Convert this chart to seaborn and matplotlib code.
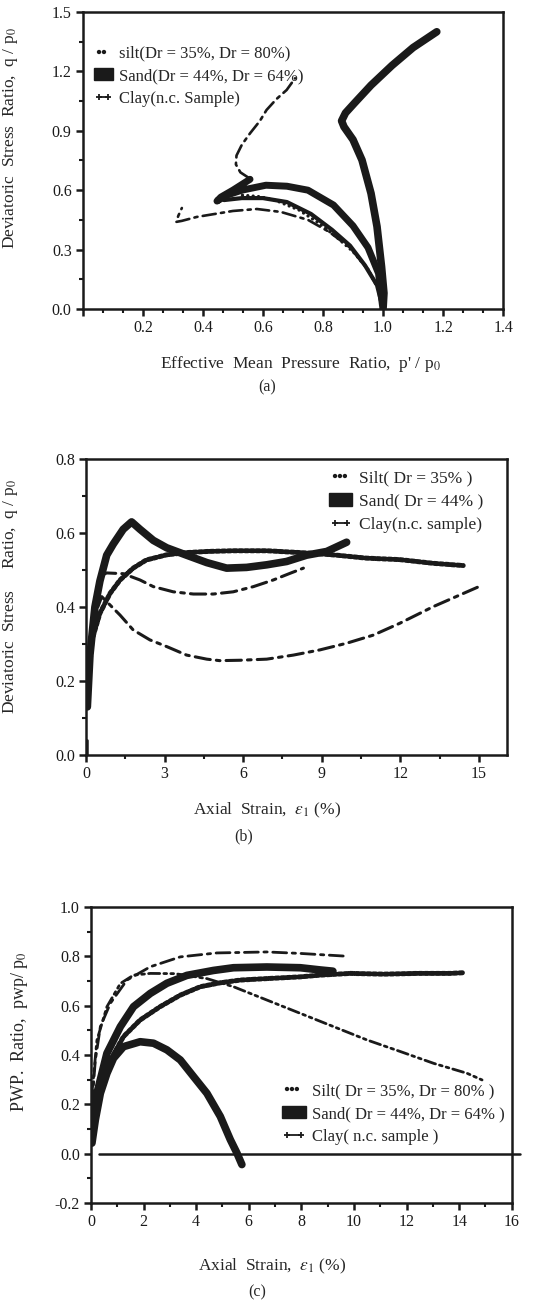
import matplotlib
matplotlib.use('Agg')
import matplotlib.pyplot as plt
import seaborn as sns
from matplotlib.lines import Line2D
from matplotlib.patches import Patch
from matplotlib.ticker import MultipleLocator

# ---- (a) stress paths: p'/p0 vs q/p0 ----
a_sand64_p = [1.00, 1.003, 0.995, 0.98, 0.96, 0.93, 0.90, 0.87, 0.862, 0.875, 0.905, 0.96, 1.03, 1.10, 1.179]
a_sand64_q = [0.00, 0.08, 0.214, 0.416, 0.584, 0.752, 0.855, 0.92, 0.95, 0.99, 1.04, 1.13, 1.23, 1.32, 1.40]
a_sand44_p = [0.998, 0.985, 0.95, 0.90, 0.835, 0.75, 0.68, 0.61, 0.53, 0.48, 0.447, 0.46, 0.50, 0.557]
a_sand44_q = [0.02, 0.18, 0.31, 0.42, 0.525, 0.60, 0.62, 0.625, 0.60, 0.575, 0.545, 0.565, 0.60, 0.655]
a_mid_p = [0.995, 0.98, 0.94, 0.89, 0.83, 0.76, 0.68, 0.60, 0.53, 0.47]
a_mid_q = [0.03, 0.12, 0.22, 0.32, 0.40, 0.48, 0.54, 0.56, 0.56, 0.55]
a_silt_p = [1.00, 0.985, 0.95, 0.90, 0.84, 0.78, 0.72, 0.68, 0.64, 0.59, 0.53]
a_silt_q = [0.00, 0.10, 0.20, 0.29, 0.37, 0.44, 0.50, 0.525, 0.55, 0.567, 0.575]
a_clay_p = [1.00, 0.985, 0.95, 0.89, 0.82, 0.75, 0.66, 0.58, 0.50, 0.44, 0.38, 0.33, 0.312, 0.318, 0.33]
a_clay_q = [0.00, 0.10, 0.20, 0.31, 0.39, 0.45, 0.49, 0.505, 0.495, 0.48, 0.465, 0.445, 0.44, 0.47, 0.51]
a_dense_p = [0.555, 0.525, 0.51, 0.512, 0.53, 0.557, 0.59, 0.612, 0.645, 0.679, 0.707]
a_dense_q = [0.66, 0.69, 0.73, 0.775, 0.83, 0.887, 0.95, 1.005, 1.06, 1.106, 1.165]

# ---- (b) q/p0 vs axial strain ----
b_sand_e = [0.05, 0.15, 0.34, 0.53, 0.79, 1.04, 1.42, 1.74, 2.06, 2.57, 3.08, 3.84, 4.61, 5.37, 6.13, 6.90, 7.66, 8.42, 9.19, 9.95]
b_sand_q = [0.13, 0.27, 0.40, 0.47, 0.54, 0.57, 0.61, 0.63, 0.61, 0.58, 0.56, 0.54, 0.52, 0.505, 0.507, 0.514, 0.523, 0.54, 0.55, 0.575]
b_silt_e = [0.05, 0.23, 0.53, 0.92, 1.3, 1.8, 2.3, 3.08, 3.84, 4.61, 5.62, 6.90, 7.66, 8.68, 9.57, 10.71, 11.98, 13.26, 14.4]
b_silt_q = [0.167, 0.311, 0.383, 0.437, 0.473, 0.505, 0.527, 0.541, 0.547, 0.55, 0.552, 0.552, 0.549, 0.545, 0.54, 0.532, 0.528, 0.518, 0.512]
b_clay1_e = [0.05, 0.2, 0.4, 0.6, 0.79, 1.42, 2.06, 2.57, 3.33, 4.1, 4.86, 5.62, 6.39, 7.15, 7.79, 8.3]
b_clay1_q = [0.15, 0.30, 0.44, 0.486, 0.492, 0.49, 0.473, 0.455, 0.441, 0.435, 0.435, 0.441, 0.455, 0.473, 0.491, 0.505]
b_clay2_e = [0.05, 0.2, 0.4, 0.6, 1.3, 1.8, 2.44, 3.08, 3.84, 4.61, 5.1, 5.87, 6.9, 7.92, 8.93, 9.95, 10.97, 11.98, 13.26, 15.0]
b_clay2_q = [0.15, 0.30, 0.39, 0.428, 0.378, 0.338, 0.311, 0.293, 0.27, 0.259, 0.255, 0.256, 0.259, 0.27, 0.284, 0.302, 0.324, 0.356, 0.401, 0.455]
b_stub_e = [0.05, 0.05]
b_stub_q = [0.0, 0.04]

# ---- (c) pore pressure ratio vs axial strain ----
c_sand64_e = [0.04, 0.17, 0.36, 0.61, 0.86, 1.24, 1.87, 2.38, 2.89, 3.4, 3.9, 4.41, 4.92, 5.3, 5.55, 5.74]
c_sand64_u = [0.043, 0.138, 0.245, 0.326, 0.387, 0.434, 0.454, 0.448, 0.421, 0.38, 0.313, 0.245, 0.151, 0.057, 0.003, -0.044]
c_sand44_e = [0.04, 0.23, 0.61, 1.12, 1.62, 2.26, 2.89, 3.65, 4.66, 5.42, 6.69, 7.96, 8.72, 9.2]
c_sand44_u = [0.07, 0.245, 0.407, 0.515, 0.596, 0.65, 0.691, 0.723, 0.743, 0.754, 0.757, 0.754, 0.745, 0.74]
c_silt_e = [0.1, 0.36, 0.74, 1.24, 1.87, 2.63, 3.4, 4.16, 4.92, 5.68, 6.69, 7.96, 8.72, 9.86, 11.13, 12.4, 13.66, 14.2]
c_silt_u = [0.084, 0.245, 0.38, 0.475, 0.542, 0.596, 0.643, 0.677, 0.693, 0.704, 0.71, 0.717, 0.724, 0.731, 0.728, 0.731, 0.731, 0.734]
c_clay_e = [0.04, 0.17, 0.36, 0.74, 1.37, 2.26, 3.4, 4.79, 6.69, 7.96, 9.67]
c_clay_u = [0.2, 0.38, 0.515, 0.61, 0.704, 0.758, 0.798, 0.814, 0.818, 0.812, 0.801]
c_dense_e = [0.04, 0.23, 0.61, 1.12, 1.62, 2.26, 3.2, 4.41, 5.42, 6.69, 7.96, 9.23, 10.5, 11.77, 13.04, 14.3, 14.87]
c_dense_u = [0.245, 0.46, 0.596, 0.69, 0.724, 0.731, 0.73, 0.71, 0.677, 0.623, 0.569, 0.515, 0.461, 0.414, 0.366, 0.326, 0.299]
c_zero_e = [0.3, 16.3]
c_zero_u = [0.0, 0.0]

a_labels = ['silt(Dr = 35%, Dr = 80%)', 'Sand(Dr = 44%, Dr = 64%)', 'Clay(n.c. Sample)']
b_labels = ['Silt( Dr = 35% )', 'Sand( Dr = 44% )', 'Clay(n.c. sample)']
c_labels = ['Silt( Dr = 35%, Dr = 80% )', 'Sand( Dr = 44%, Dr = 64% )', 'Clay( n.c. sample )']

sns.set_theme(style='ticks')
plt.rcParams['font.family'] = ['Liberation Serif', 'DejaVu Serif']
plt.rcParams['mathtext.fontset'] = 'stix'

DOT = (0, (0.01, 1.6))
LEGDOT = (0, (0.01, 1.1))
HEAVYDOT = (0, (0.6, 0.55))
DASHDOT = (0, (5, 2, 1.2, 2))


def curve(ax, x, y, lw, ls='-'):
  sns.lineplot(x=x, y=y, sort=False, estimator=None, ax=ax, color='k',
               linewidth=lw, linestyle=ls, solid_capstyle='round',
               dash_capstyle='round')


def style_axes(ax):
  for s in ax.spines.values():
    s.set_linewidth(1.8)
    s.set_color('k')
  ax.tick_params(which='major', direction='out', length=5, width=1.8,
                 labelsize=11.5, colors='k', pad=3)
  ax.tick_params(which='minor', direction='out', length=3, width=1.5,
                 colors='k')


def legend(ax, labels, size, hlen=1.4, **kw):
  hs = [Line2D([], [], color='k', lw=3.2, ls=LEGDOT, dash_capstyle='round'),
        Patch(facecolor='k', edgecolor='k'),
        Line2D([], [], color='k', lw=1.3, marker='+', ms=5, mew=1.3)]
  ax.legend(hs, labels, frameon=False, fontsize=size, handlelength=hlen,
            handletextpad=0.4, labelspacing=0.4, numpoints=2,
            borderaxespad=0, **kw)


fig = plt.figure(figsize=(5.41, 13.01), dpi=100)

# (a)
ax = fig.add_axes([0.153, 0.7625, 0.777, 0.2283])
curve(ax, a_clay_p, a_clay_q, 1.9, DASHDOT)
curve(ax, a_dense_p, a_dense_q, 1.9, DASHDOT)
curve(ax, a_silt_p, a_silt_q, 2.4, DOT)
curve(ax, a_mid_p, a_mid_q, 3.0)
curve(ax, a_sand44_p, a_sand44_q, 5.0)
curve(ax, a_sand64_p, a_sand64_q, 5.5)
ax.set_xlim(0, 1.4)
ax.set_ylim(0, 1.5)
ax.set_xticks([0, 0.2, 0.4, 0.6, 0.8, 1.0, 1.2, 1.4])
ax.set_xticklabels(['', '0.2', '0.4', '0.6', '0.8', '1.0', '1.2', '1.4'])
ax.set_yticks([0, 0.3, 0.6, 0.9, 1.2, 1.5])
ax.set_yticklabels(['0.0', '0.3', '0.6', '0.9', '1.2', '1.5'])
ax.xaxis.set_minor_locator(MultipleLocator(0.2 / 3))
ax.yaxis.set_minor_locator(MultipleLocator(0.15))
style_axes(ax)
ax.set_xlabel("Effective  Mean  Pressure  Ratio,  p' / p$_0$", fontsize=12.5)
ax.set_ylabel('Deviatoric  Stress  Ratio,  q / p$_0$', fontsize=12.5)
ax.xaxis.set_label_coords(0.517, -0.15)
ax.yaxis.set_label_coords(-0.15, 0.576)
legend(ax, a_labels, 12, hlen=1.15, loc='upper left', bbox_to_anchor=(0.01, 0.91))
fig.text(0.493, 0.702, '(a)', ha='center', va='center', fontsize=11.5)

# (b)
ax = fig.add_axes([0.159, 0.4197, 0.778, 0.2275])
curve(ax, b_stub_e, b_stub_q, 1.8)
curve(ax, b_clay1_e, b_clay1_q, 2.2, DASHDOT)
curve(ax, b_clay2_e, b_clay2_q, 2.2, DASHDOT)
curve(ax, b_silt_e, b_silt_q, 3.6, HEAVYDOT)
curve(ax, b_sand_e, b_sand_q, 5.5)
ax.set_xlim(0, 16.07)
ax.set_ylim(0, 0.8)
ax.set_xticks([0, 3, 6, 9, 12, 15])
ax.set_yticks([0, 0.2, 0.4, 0.6, 0.8])
ax.set_yticklabels(['0.0', '0.2', '0.4', '0.6', '0.8'])
ax.xaxis.set_minor_locator(MultipleLocator(1.5))
ax.yaxis.set_minor_locator(MultipleLocator(0.1))
style_axes(ax)
ax.set_xlabel('Axial  Strain,  $\\varepsilon_1$ (%)', fontsize=12.5)
ax.set_ylabel('Deviatoric  Stress     Ratio,  q / p$_0$', fontsize=12.5)
ax.xaxis.set_label_coords(0.43, -0.155)
ax.yaxis.set_label_coords(-0.157, 0.534)
legend(ax, b_labels, 12.5, hlen=1.3, loc='upper right', bbox_to_anchor=(0.96, 0.985))
fig.text(0.45, 0.357, '(b)', ha='center', va='center', fontsize=11.5)

# (c)
ax = fig.add_axes([0.168, 0.0753, 0.778, 0.2275])
curve(ax, c_clay_e, c_clay_u, 2.0, DASHDOT)
curve(ax, c_dense_e, c_dense_u, 2.0, (0, (4, 1.5, 1, 1.5, 1, 1.5)))
curve(ax, c_silt_e, c_silt_u, 3.6, HEAVYDOT)
curve(ax, c_sand44_e, c_sand44_u, 5.5)
curve(ax, c_sand64_e, c_sand64_u, 5.5)
sns.lineplot(x=c_zero_e, y=c_zero_u, ax=ax, color='k', linewidth=1.8,
             clip_on=False)
ax.set_xlim(0, 16)
ax.set_ylim(-0.2, 1.0)
ax.set_xticks(range(0, 17, 2))
ax.set_yticks([-0.2, 0, 0.2, 0.4, 0.6, 0.8, 1.0])
ax.set_yticklabels(['-0.2', '0.0', '0.2', '0.4', '0.6', '0.8', '1.0'])
ax.xaxis.set_minor_locator(MultipleLocator(1))
ax.yaxis.set_minor_locator(MultipleLocator(0.1))
style_axes(ax)
ax.set_xlabel('Axial  Strain,  $\\varepsilon_1$ (%)', fontsize=12.5)
ax.set_ylabel('PWP.  Ratio,  pwp/ p$_0$', fontsize=13)
ax.xaxis.set_label_coords(0.43, -0.18)
ax.yaxis.set_label_coords(-0.145, 0.578)
legend(ax, c_labels, 12, loc='upper right', bbox_to_anchor=(1.0, 0.427))
fig.text(0.475, 0.0069, '(c)', ha='center', va='center', fontsize=11.5)

fig.savefig('out.png', dpi=100)
